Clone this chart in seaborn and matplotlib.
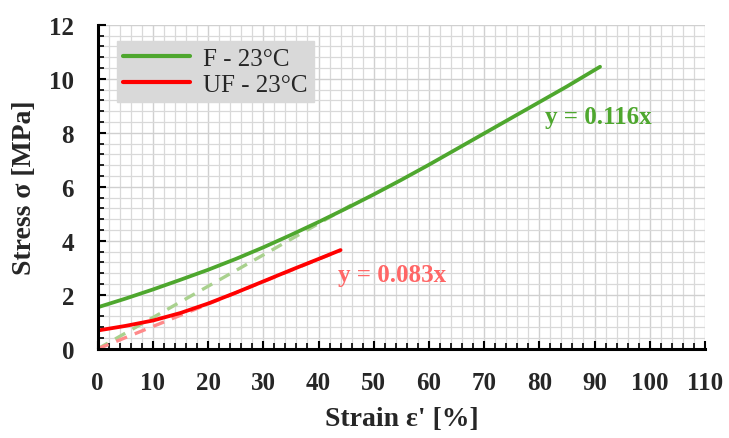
import numpy as np
import pandas as pd
import matplotlib
matplotlib.use("Agg")
import matplotlib.pyplot as plt
import seaborn as sns
from matplotlib.ticker import MultipleLocator

# Data
f_strain = [0, 5, 10, 15, 20, 25, 30, 35, 40, 45, 50, 55, 60, 65, 70, 75, 80, 85, 91]
f_stress = [1.54, 1.86, 2.2, 2.56, 2.93, 3.33, 3.76, 4.22, 4.7, 5.2, 5.72, 6.26, 6.82, 7.4, 7.98, 8.56, 9.14, 9.72, 10.45]
uf_strain = [0, 5, 10, 15, 20, 25, 30, 35, 40, 44]
uf_stress = [0.68, 0.85, 1.05, 1.33, 1.68, 2.08, 2.5, 2.92, 3.33, 3.66]
f_slope = 0.116
uf_slope = 0.083
fit_f_x = [0, 47]
fit_uf_x = [0, 44]
xticks = list(range(0, 111, 10))
yticks = list(range(0, 13, 2))

sns.set_theme(style="white")
plt.rcParams['font.family'] = ['Liberation Serif', 'DejaVu Serif']

fig = plt.figure(figsize=(7.29, 4.39), dpi=100)
ax = fig.add_axes([0.134, 0.203, 0.833, 0.738])

green = "#4ea72e"
red = "#ff0000"

df_fit_f = pd.DataFrame({"x": fit_f_x, "y": [f_slope * v for v in fit_f_x]})
df_fit_uf = pd.DataFrame({"x": fit_uf_x, "y": [uf_slope * v for v in fit_uf_x]})
sns.lineplot(data=df_fit_f, x="x", y="y", ax=ax, color="#a9d18e", lw=2.4, linestyle=(0, (3.5, 2.5)), zorder=3)
sns.lineplot(data=df_fit_uf, x="x", y="y", ax=ax, color="#ff8a8a", lw=2.4, linestyle=(0, (3.5, 2.5)), zorder=3)

df_f = pd.DataFrame({"x": f_strain, "y": f_stress})
df_uf = pd.DataFrame({"x": uf_strain, "y": uf_stress})
sns.lineplot(data=df_f, x="x", y="y", ax=ax, color=green, lw=2.7, label="F - 23°C", zorder=4)
sns.lineplot(data=df_uf, x="x", y="y", ax=ax, color=red, lw=2.7, label="UF - 23°C", zorder=4)

ax.set_xlim(0, 110)
ax.set_ylim(0, 12)
ax.set_xticks(xticks)
ax.set_yticks(yticks)
ax.xaxis.set_minor_locator(MultipleLocator(2))
ax.yaxis.set_minor_locator(MultipleLocator(0.4))
ax.grid(which="major", color="#d0d0d0", lw=1.0)
ax.grid(which="minor", color="#d9d9d9", lw=0.9)
ax.set_axisbelow(True)

for s in ["top", "right"]:
    ax.spines[s].set_visible(False)
for s in ["left", "bottom"]:
    ax.spines[s].set_color("black")
    ax.spines[s].set_linewidth(2.2)
    ax.spines[s].set_zorder(5)

ax.tick_params(axis="both", which="major", direction="in", length=6, width=1.5, color="black",
               labelsize=18, pad=16, bottom=True, left=True)
ax.tick_params(axis="both", which="minor", direction="in", length=4, width=1.2, color="black",
               bottom=True, left=True)
ax.tick_params(axis="y", which="major", pad=17)
for lab in ax.get_xticklabels() + ax.get_yticklabels():
    lab.set_fontweight("bold")

ax.set_xlabel("Strain ε' [%]", fontsize=20, fontweight="bold")
ax.set_ylabel("Stress σ [MPa]", fontsize=20, fontweight="bold")
ax.xaxis.set_label_coords(0.5, -0.175)
ax.yaxis.set_label_coords(-0.1, 0.5)

ax.text(81, 8.35, "y = 0.116x", color=green, fontsize=18, fontweight="bold")
ax.text(43.5, 2.5, "y = 0.083x", color="#ff6666", fontsize=18, fontweight="bold")

leg = ax.legend(loc="upper left", bbox_to_anchor=(0.031, 0.951), frameon=True, fontsize=18,
                handlelength=2.7, borderpad=0.25, labelspacing=0.15, handletextpad=0.5,
                borderaxespad=0, fancybox=False)
leg.get_frame().set_facecolor("#d9d9d9")
leg.get_frame().set_edgecolor("#d9d9d9")
leg.get_frame().set_alpha(1)
for line in leg.get_lines():
    line.set_linewidth(3.0)

fig.savefig("out.png", dpi=100)
